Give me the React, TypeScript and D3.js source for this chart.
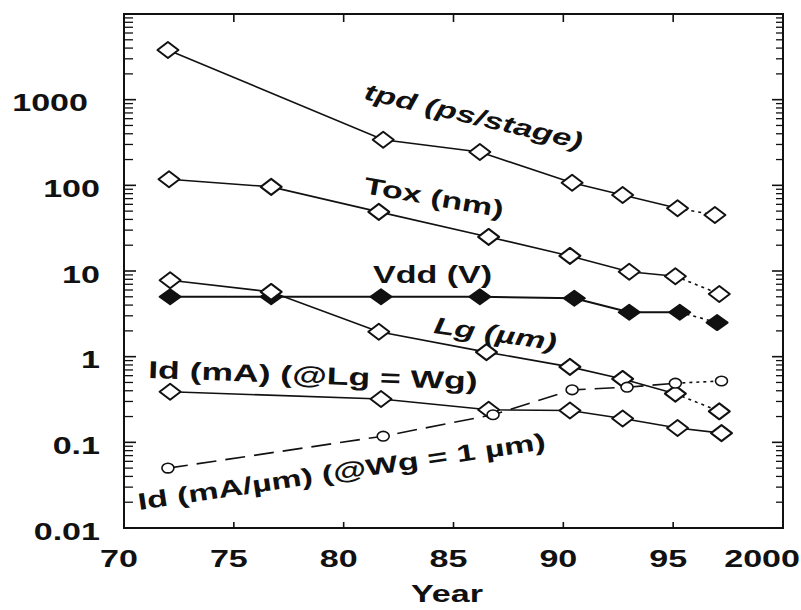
import React from "react";
import * as d3 from "d3";

// ---- data ----
const tpdYears = [72.0, 81.8, 86.2, 90.4, 92.7, 95.2, 96.9];
const tpdValues = [3800, 340, 245, 107, 77, 54, 45];

const toxYears = [72.05, 76.7, 81.6, 86.6, 90.3, 93.0, 95.1, 97.1];
const toxValues = [118, 96, 49, 25, 15, 9.8, 8.7, 5.4];

const vddYears = [72.1, 76.7, 81.7, 86.2, 90.5, 93.0, 95.3, 97.0];
const vddValues = [5, 5, 5, 5, 4.8, 3.3, 3.3, 2.5];

const lgYears = [72.1, 76.7, 81.6, 86.5, 90.3, 92.7, 95.1, 97.1];
const lgValues = [7.8, 5.7, 1.95, 1.13, 0.76, 0.55, 0.37, 0.23];

const idYears = [72.1, 81.7, 86.6, 90.3, 92.7, 95.2, 97.2];
const idValues = [0.39, 0.32, 0.24, 0.235, 0.19, 0.147, 0.128];

const idwYears = [72.0, 81.8, 86.8, 90.4, 92.9, 95.1, 97.2];
const idwValues = [0.05, 0.118, 0.21, 0.41, 0.44, 0.49, 0.52];

const xTicks = [70, 75, 80, 85, 90, 95, 100];
const xTickLabels = ["70", "75", "80", "85", "90", "95", "2000"];
const yTicks = [0.01, 0.1, 1, 10, 100, 1000];
const yTickLabels = ["0.01", "0.1", "1", "10", "100", "1000"];

const W = 801;
const H = 610;
const FONT = "'Liberation Sans', Arial, Helvetica, sans-serif";

const x = d3.scaleLinear().domain([70, 100]).range([124, 783]);
const y = d3.scaleLog().domain([0.01, 10000]).range([528, 14]);

type Series = {
  years: number[];
  values: number[];
  marker: "open" | "filled" | "circle";
  dash: string | null;
  projected: boolean;
};

const series: Series[] = [
  { years: tpdYears, values: tpdValues, marker: "open", dash: null, projected: true },
  { years: toxYears, values: toxValues, marker: "open", dash: null, projected: true },
  { years: vddYears, values: vddValues, marker: "filled", dash: null, projected: true },
  { years: lgYears, values: lgValues, marker: "open", dash: null, projected: true },
  { years: idYears, values: idValues, marker: "open", dash: null, projected: false },
  { years: idwYears, values: idwValues, marker: "circle", dash: "20,9", projected: true },
];

const line = d3
  .line<[number, number]>()
  .x((d) => x(d[0]))
  .y((d) => y(d[1]));

function Label({
  tx,
  ty,
  angle = 0,
  text,
  italic = false,
  anchor = "start",
  size = 23.5,
}: {
  tx: number;
  ty: number;
  angle?: number;
  text: string;
  italic?: boolean;
  anchor?: string;
  size?: number;
}) {
  return (
    <g transform={`translate(${tx},${ty}) rotate(${angle}) scale(1.45,1)`}>
      <text
        x={0}
        y={0}
        textAnchor={anchor}
        fontFamily={FONT}
        fontWeight="bold"
        fontStyle={italic ? "italic" : "normal"}
        fontSize={size}
        fill="#111"
      >
        {text}
      </text>
    </g>
  );
}

function Marker({ cx, cy, kind }: { cx: number; cy: number; kind: string }) {
  if (kind === "circle") {
    return <ellipse cx={cx} cy={cy} rx={6} ry={4.8} fill="#fff" stroke="#111" strokeWidth={1.6} />;
  }
  const w = 10.5;
  const h = kind === "filled" ? 7.5 : 8;
  const d = `M${cx},${cy - h}L${cx + w},${cy}L${cx},${cy + h}L${cx - w},${cy}Z`;
  return (
    <path
      d={d}
      fill={kind === "filled" ? "#111" : "#fff"}
      stroke="#111"
      strokeWidth={2}
      strokeLinejoin="round"
    />
  );
}

export default function App() {
  const [x0, x1] = x.range();
  const [yb, yt] = y.range();

  // log minor ticks
  const minor: number[] = [];
  for (let e = -2; e < 4; e++) {
    for (let k = 2; k <= 9; k++) minor.push(k * Math.pow(10, e));
  }
  const innerXTicks = xTicks.slice(1, -1);

  return (
    <svg
      width={W}
      height={H}
      style={{ position: "absolute", left: 0, top: 0, background: "#fff", display: "block" }}
    >
      <rect x={0} y={0} width={W} height={H} fill="#fff" />

      {/* series lines */}
      {series.map((s, i) => {
        const pts: [number, number][] = s.years.map((yr, j) => [yr, s.values[j]]);
        const solid = s.projected ? pts.slice(0, -1) : pts;
        const proj = s.projected ? pts.slice(-2) : [];
        return (
          <g key={i}>
            <path
              d={line(solid) || ""}
              fill="none"
              stroke="#111"
              strokeWidth={s.marker === "filled" ? 2 : 1.6}
              strokeDasharray={s.dash || undefined}
            />
            {proj.length > 0 && (
              <path d={line(proj) || ""} fill="none" stroke="#111" strokeWidth={1.6} strokeDasharray="3,4" />
            )}
          </g>
        );
      })}

      {/* markers */}
      {series.map((s, i) => (
        <g key={"m" + i}>
          {s.years.map((yr, j) => (
            <Marker key={j} cx={x(yr)} cy={y(s.values[j])} kind={s.marker} />
          ))}
        </g>
      ))}

      {/* frame */}
      <rect x={x0} y={yt} width={x1 - x0} height={yb - yt} fill="none" stroke="#111" strokeWidth={2} />

      {/* left & right log ticks */}
      {yTicks.concat([10000]).map((v, i) => (
        <g key={"yt" + i}>
          <line x1={x0} x2={x0 + 12} y1={y(v)} y2={y(v)} stroke="#111" strokeWidth={1.6} />
          <line x1={x1} x2={x1 - 11} y1={y(v)} y2={y(v)} stroke="#111" strokeWidth={1.6} />
        </g>
      ))}
      {minor.map((v, i) => (
        <g key={"ym" + i}>
          <line x1={x0} x2={x0 + 9} y1={y(v)} y2={y(v)} stroke="#111" strokeWidth={1.3} />
          <line x1={x1} x2={x1 - 7} y1={y(v)} y2={y(v)} stroke="#111" strokeWidth={1.3} />
        </g>
      ))}

      {/* top & bottom ticks */}
      {innerXTicks.map((v, i) => (
        <g key={"xt" + i}>
          <line x1={x(v)} x2={x(v)} y1={yb} y2={yb - 6} stroke="#111" strokeWidth={1.6} />
          <line x1={x(v)} x2={x(v)} y1={yt} y2={yt + 8} stroke="#111" strokeWidth={1.6} />
        </g>
      ))}

      {/* x tick labels */}
      {xTicks.map((v, i) =>
        i === xTicks.length - 1 ? (
          <Label key={"xl" + i} tx={x(v) + 17} ty={567} text={xTickLabels[i]} anchor="end" />
        ) : (
          <Label key={"xl" + i} tx={x(v) - 5} ty={567} text={xTickLabels[i]} anchor="middle" />
        )
      )}

      {/* y tick labels */}
      {yTicks.map((v, i) => (
        <Label
          key={"yl" + i}
          tx={v === 1000 ? 88 : 100}
          ty={y(v) + 11.5}
          text={yTickLabels[i]}
          anchor="end"
        />
      ))}

      {/* axis title */}
      <Label tx={447} ty={602} text="Year" anchor="middle" />

      {/* series annotations */}
      <Label tx={363} ty={99} angle={13} text="tpd (ps/stage)" italic />
      <Label tx={363} ty={193} angle={10} text="Tox (nm)" />
      <Label tx={373} ty={283} angle={0} text="Vdd (V)" />
      <Label tx={433} ty={333} angle={8} text="Lg (µm)" italic />
      <Label tx={148} ty={378} angle={2} text="Id (mA) (@Lg = Wg)" size={24.5} />
      <Label tx={139} ty={510} angle={-8.5} text="Id (mA/µm) (@Wg = 1 µm)" />
    </svg>
  );
}
